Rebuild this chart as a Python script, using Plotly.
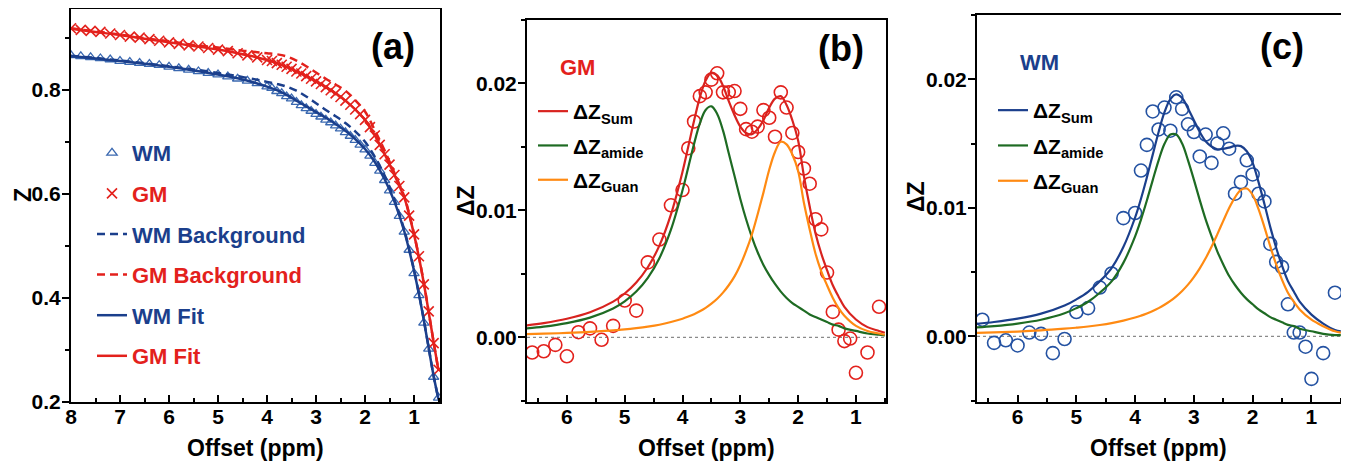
import plotly.graph_objects as go

# ---------------- data: panel (a) Z-spectra ----------------
xa_data = [8.0, 7.8, 7.6, 7.4, 7.2, 7.0, 6.8, 6.6, 6.4, 6.2, 6.0, 5.8, 5.6, 5.4, 5.2, 5.0, 4.8, 4.6, 4.4, 4.2,
           4.0, 3.9, 3.8, 3.7, 3.6, 3.5, 3.4, 3.3, 3.2, 3.1, 3.0, 2.9, 2.8, 2.7, 2.6, 2.5, 2.4, 2.3, 2.2, 2.1,
           2.0, 1.9, 1.8, 1.7, 1.6, 1.5, 1.4, 1.3, 1.2, 1.1, 1.0, 0.9, 0.8, 0.7, 0.6, 0.5]
wm_z = [0.866, 0.864, 0.862, 0.860, 0.858, 0.855, 0.853, 0.851, 0.849, 0.847, 0.844, 0.841, 0.838, 0.835, 0.832,
        0.829, 0.825, 0.821, 0.817, 0.812, 0.806, 0.803, 0.797, 0.793, 0.787, 0.783, 0.776, 0.770, 0.764, 0.759,
        0.753, 0.748, 0.742, 0.737, 0.731, 0.725, 0.718, 0.711, 0.703, 0.694, 0.685, 0.673, 0.659, 0.644, 0.626,
        0.606, 0.584, 0.557, 0.527, 0.492, 0.447, 0.405, 0.352, 0.302, 0.248, 0.208]
gm_z = [0.918, 0.915, 0.913, 0.911, 0.908, 0.905, 0.902, 0.900, 0.897, 0.894, 0.891, 0.888, 0.885, 0.883, 0.880,
        0.877, 0.874, 0.870, 0.866, 0.862, 0.857, 0.855, 0.851, 0.848, 0.844, 0.840, 0.835, 0.831, 0.826, 0.821,
        0.816, 0.811, 0.805, 0.799, 0.793, 0.786, 0.779, 0.771, 0.762, 0.753, 0.742, 0.728, 0.712, 0.694, 0.676,
        0.656, 0.636, 0.615, 0.593, 0.558, 0.522, 0.480, 0.426, 0.374, 0.313, 0.262]

xa_curve = [8.0, 7.5, 7.0, 6.5, 6.0, 5.5, 5.0, 4.6, 4.2, 4.0, 3.8, 3.6, 3.4, 3.2, 3.0, 2.8, 2.6, 2.4, 2.2, 2.0,
            1.8, 1.6, 1.4, 1.2, 1.1, 1.0, 0.9, 0.8, 0.7, 0.6, 0.5]
wm_fit = [0.864, 0.860, 0.855, 0.850, 0.844, 0.837, 0.829, 0.822, 0.812, 0.806, 0.799, 0.790, 0.779, 0.768, 0.757,
          0.746, 0.734, 0.721, 0.705, 0.686, 0.661, 0.628, 0.585, 0.528, 0.492, 0.452, 0.407, 0.357, 0.303, 0.250, 0.205]
wm_bg = [0.865, 0.861, 0.856, 0.851, 0.845, 0.839, 0.832, 0.826, 0.819, 0.815, 0.811, 0.806, 0.798, 0.787, 0.774,
         0.761, 0.749, 0.736, 0.720, 0.700, 0.671, 0.635, 0.589, 0.531, 0.494, 0.454, 0.408, 0.358, 0.304, 0.250, 0.205]
gm_fit = [0.917, 0.911, 0.905, 0.898, 0.891, 0.884, 0.877, 0.870, 0.862, 0.857, 0.851, 0.844, 0.835, 0.826, 0.816,
          0.805, 0.793, 0.779, 0.762, 0.742, 0.712, 0.676, 0.636, 0.593, 0.560, 0.522, 0.478, 0.428, 0.372, 0.315, 0.260]
gm_bg = [0.918, 0.912, 0.906, 0.899, 0.893, 0.886, 0.881, 0.876, 0.872, 0.870, 0.868, 0.864, 0.856, 0.845, 0.833,
         0.821, 0.810, 0.798, 0.780, 0.758, 0.722, 0.683, 0.640, 0.595, 0.562, 0.523, 0.479, 0.429, 0.373, 0.315, 0.260]

# ---------------- data: panels (b) GM and (c) WM, Delta Z ----------------
xd = [6.6, 6.4, 6.2, 6.0, 5.8, 5.6, 5.4, 5.2, 5.0, 4.8, 4.6, 4.4, 4.2, 4.0,
      3.9, 3.8, 3.7, 3.6, 3.5, 3.4, 3.3, 3.2, 3.1, 3.0, 2.9, 2.8, 2.7, 2.6, 2.5, 2.4, 2.3, 2.2, 2.1,
      2.0, 1.9, 1.8, 1.7, 1.6, 1.5, 1.4, 1.3, 1.2, 1.1, 1.0, 0.8, 0.6]
gm_dz = [-0.0012, -0.0011, -0.0006, -0.0015, 0.0004, 0.0007, -0.0002, 0.0009, 0.0029, 0.0021, 0.0059, 0.0077,
         0.0104, 0.0116, 0.0149, 0.0170, 0.0190, 0.0193, 0.0203, 0.0208, 0.0193, 0.0193, 0.0194, 0.0180, 0.0164,
         0.0162, 0.0166, 0.0179, 0.0173, 0.0158, 0.0193, 0.0181, 0.0161, 0.0146, 0.0133, 0.0121, 0.0093, 0.0085,
         0.0051, 0.0020, 0.0006, -0.0003, -0.0001, -0.0028, -0.0012, 0.0024]
wm_dz = [0.0013, -0.0005, -0.0003, -0.0007, 0.0003, 0.0002, -0.0013, -0.0002, 0.0019, 0.0022, 0.0038, 0.0049,
         0.0092, 0.0096, 0.0129, 0.0149, 0.0175, 0.0161, 0.0178, 0.0160, 0.0186, 0.0177, 0.0165, 0.0159, 0.0140,
         0.0157, 0.0135, 0.0150, 0.0158, 0.0146, 0.0111, 0.0120, 0.0137, 0.0126, 0.0111, 0.0105, 0.0072, 0.0058,
         0.0054, 0.0025, 0.0003, 0.0003, -0.0008, -0.0033, -0.0013, 0.0034]

xc = [6.7, 6.4, 6.0, 5.6, 5.2, 5.0, 4.8, 4.6, 4.4, 4.2, 4.0, 3.9, 3.8, 3.7, 3.6, 3.5, 3.4, 3.3, 3.2, 3.1, 3.0,
      2.9, 2.8, 2.7, 2.6, 2.5, 2.4, 2.3, 2.2, 2.1, 2.0, 1.9, 1.8, 1.7, 1.6, 1.5, 1.4, 1.3, 1.2, 1.0, 0.8, 0.6, 0.5]
gm_sum = [0.00094, 0.00112, 0.00146, 0.00197, 0.00281, 0.00345, 0.00432, 0.00552, 0.00722, 0.00968, 0.01304,
          0.01503, 0.01706, 0.0189, 0.02023, 0.02085, 0.02064, 0.01982, 0.0186, 0.0175, 0.0166, 0.0161, 0.0160,
          0.0164, 0.0171, 0.0181, 0.0188, 0.0190, 0.0183, 0.0171, 0.0155, 0.0127, 0.0103, 0.0082, 0.0066, 0.0053,
          0.0041, 0.0032, 0.0024, 0.0014, 0.0008, 0.0005, 0.00035]
gm_amide = [0.0007, 0.00084, 0.00112, 0.00155, 0.00227, 0.00283, 0.0036, 0.00468, 0.00623, 0.00848, 0.01158,
            0.0134, 0.01524, 0.01685, 0.01791, 0.0182, 0.0176, 0.0163, 0.0145, 0.0127, 0.0109, 0.0093, 0.0079,
            0.0067, 0.0057, 0.0049, 0.0042, 0.0036, 0.0031, 0.0027, 0.0024, 0.0021, 0.0018, 0.0016, 0.0014,
            0.0012, 0.0010, 0.0009, 0.0007, 0.0005, 0.0003, 0.0002, 0.00015]
gm_guan = [0.00024, 0.00028, 0.00034, 0.00042, 0.00054, 0.00062, 0.00072, 0.00084, 0.00099, 0.0012, 0.00146,
           0.00163, 0.00182, 0.00205, 0.00232, 0.00265, 0.00304, 0.00352, 0.0041, 0.0048, 0.0057, 0.0068, 0.0081,
           0.0097, 0.0114, 0.0132, 0.0146, 0.0154, 0.0152, 0.0144, 0.0131, 0.0106, 0.0085, 0.0066, 0.0052, 0.0041,
           0.0031, 0.0023, 0.0017, 0.0009, 0.0005, 0.0003, 0.0002]
wm_sum = [0.00098, 0.00112, 0.00138, 0.00177, 0.0024, 0.00288, 0.00347, 0.00429, 0.00532, 0.00695, 0.00925,
          0.01071, 0.01236, 0.01414, 0.0159, 0.01744, 0.01846, 0.01882, 0.01854, 0.01773, 0.01682, 0.0159,
          0.01518, 0.01477, 0.01456, 0.01459, 0.01469, 0.01482, 0.0148, 0.0144, 0.0135, 0.0120, 0.0103, 0.0085,
          0.0069, 0.0055, 0.0043, 0.0035, 0.0027, 0.0017, 0.0010, 0.0005, 0.0004]
wm_amide = [0.0007, 0.0008, 0.0010, 0.0013, 0.0018, 0.0022, 0.0027, 0.0034, 0.00428, 0.00572, 0.00778, 0.00909,
            0.01057, 0.01216, 0.0137, 0.01498, 0.0157, 0.0157, 0.0150, 0.0137, 0.0122, 0.0106, 0.0091, 0.0078,
            0.0066, 0.0056, 0.0047, 0.0040, 0.0034, 0.0029, 0.0025, 0.0021, 0.0018, 0.0015, 0.0013, 0.0011,
            0.0009, 0.0008, 0.0006, 0.0004, 0.0002, 0.0001, 0.0001]
wm_guan = [0.00028, 0.00032, 0.00038, 0.00047, 0.0006, 0.00068, 0.00077, 0.00089, 0.00104, 0.00123, 0.00147,
           0.00162, 0.00179, 0.00198, 0.0022, 0.00246, 0.00276, 0.00312, 0.00354, 0.00403, 0.00462, 0.0053,
           0.00608, 0.00697, 0.00796, 0.00899, 0.00999, 0.01082, 0.0114, 0.0115, 0.0110, 0.0099, 0.0085, 0.0070,
           0.0056, 0.0044, 0.0034, 0.0027, 0.0021, 0.0013, 0.0008, 0.0004, 0.0003]

# ---------------- styles ----------------
FONT = "Liberation Sans, Arial, sans-serif"
BLUE = "#1b3f8c"
BLUE_MK = "#3a68b0"
RED = "#e3211c"
GREEN = "#1e6b23"
ORANGE = "#ff8a12"

# the page body has an 8px margin: figure is sized/positioned to sit inside it
OFF = 8
W, H = 1349 - OFF, 464 - OFF


def fx(px):  # window pixel x -> paper fraction
    return (px - OFF) / W


def fy(py):  # window pixel y -> paper fraction
    return 1 - (py - OFF) / H


def span(txt, col):
    return f"<span style='color:{col}'>{txt}</span>"


fig = go.Figure()

# panel (a)
fig.add_trace(go.Scatter(x=xa_data, y=wm_z, mode="markers", name=span("WM", BLUE),
                         marker=dict(symbol="triangle-up-open", size=9, color=BLUE_MK, line=dict(width=1.3)),
                         xaxis="x", yaxis="y", legend="legend", legendgroup="a1"))
fig.add_trace(go.Scatter(x=xa_data, y=gm_z, mode="markers", name=span("GM", RED),
                         marker=dict(symbol="x-thin-open", size=10, color=RED, line=dict(width=1.6, color=RED)),
                         xaxis="x", yaxis="y", legend="legend", legendgroup="a2"))
fig.add_trace(go.Scatter(x=xa_curve, y=wm_bg, mode="lines", name=span("WM Background", BLUE),
                         line=dict(color=BLUE, width=2.5, dash="8px,5px", shape="spline"),
                         xaxis="x", yaxis="y", legend="legend", legendgroup="a3"))
fig.add_trace(go.Scatter(x=xa_curve, y=gm_bg, mode="lines", name=span("GM Background", RED),
                         line=dict(color=RED, width=2.5, dash="8px,5px", shape="spline"),
                         xaxis="x", yaxis="y", legend="legend", legendgroup="a4"))
fig.add_trace(go.Scatter(x=xa_curve, y=wm_fit, mode="lines", name=span("WM Fit", BLUE),
                         line=dict(color=BLUE, width=2.5, shape="spline"),
                         xaxis="x", yaxis="y", legend="legend", legendgroup="a5"))
fig.add_trace(go.Scatter(x=xa_curve, y=gm_fit, mode="lines", name=span("GM Fit", RED),
                         line=dict(color=RED, width=2.5, shape="spline"),
                         xaxis="x", yaxis="y", legend="legend", legendgroup="a6"))

# panel (b) GM
fig.add_trace(go.Scatter(x=xd, y=gm_dz, mode="markers", showlegend=False,
                         marker=dict(symbol="circle-open", size=13, color=RED, line=dict(width=1.6)),
                         xaxis="x2", yaxis="y2"))
fig.add_trace(go.Scatter(x=xc, y=gm_sum, mode="lines", name="<b>ΔZ<sub>Sum</sub></b>",
                         line=dict(color="#d8231f", width=2.2, shape="spline"),
                         xaxis="x2", yaxis="y2", legend="legend2", legendgroup="b1"))
fig.add_trace(go.Scatter(x=xc, y=gm_amide, mode="lines", name="<b>ΔZ<sub>amide</sub></b>",
                         line=dict(color=GREEN, width=2.2, shape="spline"),
                         xaxis="x2", yaxis="y2", legend="legend2", legendgroup="b2"))
fig.add_trace(go.Scatter(x=xc, y=gm_guan, mode="lines", name="<b>ΔZ<sub>Guan</sub></b>",
                         line=dict(color=ORANGE, width=2.2, shape="spline"),
                         xaxis="x2", yaxis="y2", legend="legend2", legendgroup="b3"))

# panel (c) WM
fig.add_trace(go.Scatter(x=xd, y=wm_dz, mode="markers", showlegend=False,
                         marker=dict(symbol="circle-open", size=13, color="#2452a2", line=dict(width=1.6)),
                         xaxis="x3", yaxis="y3"))
fig.add_trace(go.Scatter(x=xc, y=wm_sum, mode="lines", name="<b>ΔZ<sub>Sum</sub></b>",
                         line=dict(color=BLUE, width=2.2, shape="spline"),
                         xaxis="x3", yaxis="y3", legend="legend3", legendgroup="c1"))
fig.add_trace(go.Scatter(x=xc, y=wm_amide, mode="lines", name="<b>ΔZ<sub>amide</sub></b>",
                         line=dict(color=GREEN, width=2.2, shape="spline"),
                         xaxis="x3", yaxis="y3", legend="legend3", legendgroup="c2"))
fig.add_trace(go.Scatter(x=xc, y=wm_guan, mode="lines", name="<b>ΔZ<sub>Guan</sub></b>",
                         line=dict(color=ORANGE, width=2.2, shape="spline"),
                         xaxis="x3", yaxis="y3", legend="legend3", legendgroup="c3"))


def px_x(a, b):
    return [fx(a), fx(b)]


def px_y(top, bottom):
    return [fy(bottom), fy(top)]


tickfont = dict(family=FONT, size=21, color="black", weight="bold")


def xaxis(domain, rng, anchor):
    return dict(domain=domain, range=rng, anchor=anchor, showline=True, linecolor="black", linewidth=2,
                mirror=True, ticks="inside", ticklen=7, tickwidth=2, tickcolor="black", dtick=1, tick0=0,
                minor=dict(ticks="inside", ticklen=4, tickwidth=1.5, tickcolor="black", dtick=0.5, tick0=0),
                showgrid=False, zeroline=False, tickfont=tickfont, automargin=False, ticklabelstandoff=-5)


def yaxis(domain, rng, anchor, dtick, fmt):
    return dict(domain=domain, range=rng, anchor=anchor, showline=True, linecolor="black", linewidth=2,
                mirror=True, ticks="outside", ticklen=7, tickwidth=2, tickcolor="black", dtick=dtick, tick0=0,
                tickformat=fmt,
                minor=dict(ticks="outside", ticklen=4, tickwidth=1.5, tickcolor="black", dtick=dtick / 2, tick0=0),
                showgrid=False, zeroline=False, tickfont=tickfont, automargin=False, ticklabelstandoff=-3)


leg_common = dict(bgcolor="rgba(0,0,0,0)", xanchor="left", yanchor="top", itemwidth=30)


def ann(text, x, y, size, color="black", angle=0):
    return dict(text=text, x=fx(x), y=fy(y), xref="paper", yref="paper", showarrow=False,
                xanchor="center", yanchor="middle", textangle=angle,
                font=dict(family=FONT, size=size, color=color, weight="bold"))


fig.update_layout(
    width=W, height=H, margin=dict(l=0, r=0, t=0, b=0),
    paper_bgcolor="white", plot_bgcolor="white",
    xaxis=xaxis(px_x(71, 440), [8, 0.47], "y"),
    yaxis=yaxis(px_y(9, 402), [0.2, 0.955], "x", 0.2, ".1f"),
    xaxis2=xaxis(px_x(527, 886), [6.69, 0.48], "y2"),
    yaxis2=yaxis(px_y(20, 402), [-0.0051, 0.025], "x2", 0.01, ".2f"),
    xaxis3=xaxis(px_x(977, 1342), [6.69, 0.48], "y3"),
    yaxis3=yaxis(px_y(15, 402), [-0.0051, 0.025], "x3", 0.01, ".2f"),
    legend=dict(x=fx(92), y=fy(132), tracegroupgap=9,
                font=dict(family=FONT, size=22, color="black", weight="bold"), **leg_common),
    legend2=dict(x=fx(533), y=fy(91), tracegroupgap=4,
                 font=dict(family=FONT, size=21, color="black", weight="bold"), **leg_common),
    legend3=dict(x=fx(993), y=fy(90), tracegroupgap=5,
                 font=dict(family=FONT, size=21, color="black", weight="bold"), **leg_common),
    shapes=[
        dict(type="line", xref="x2 domain", x0=0, x1=1, yref="y2", y0=0, y1=0, layer="below",
             line=dict(color="#8a8a8a", width=1.3, dash="dot")),
        dict(type="line", xref="x3 domain", x0=0, x1=1, yref="y3", y0=0, y1=0, layer="below",
             line=dict(color="#8a8a8a", width=1.3, dash="dot")),
    ],
    annotations=[
        ann("(a)", 393, 46, 36),
        ann("(b)", 841, 48, 36),
        ann("(c)", 1282, 47, 36),
        ann("GM", 577, 67, 22, RED),
        ann("WM", 1039, 62, 22, BLUE),
        ann("Offset (ppm)", 255, 448, 23),
        ann("Offset (ppm)", 706, 448, 23),
        ann("Offset (ppm)", 1158, 448, 23),
        ann("Z", 23, 195, 23, angle=-90),
        ann("ΔZ", 466, 200, 23, angle=-90),
        ann("ΔZ", 916, 197, 23, angle=-90),
    ],
)

fig.write_html("out.html")
